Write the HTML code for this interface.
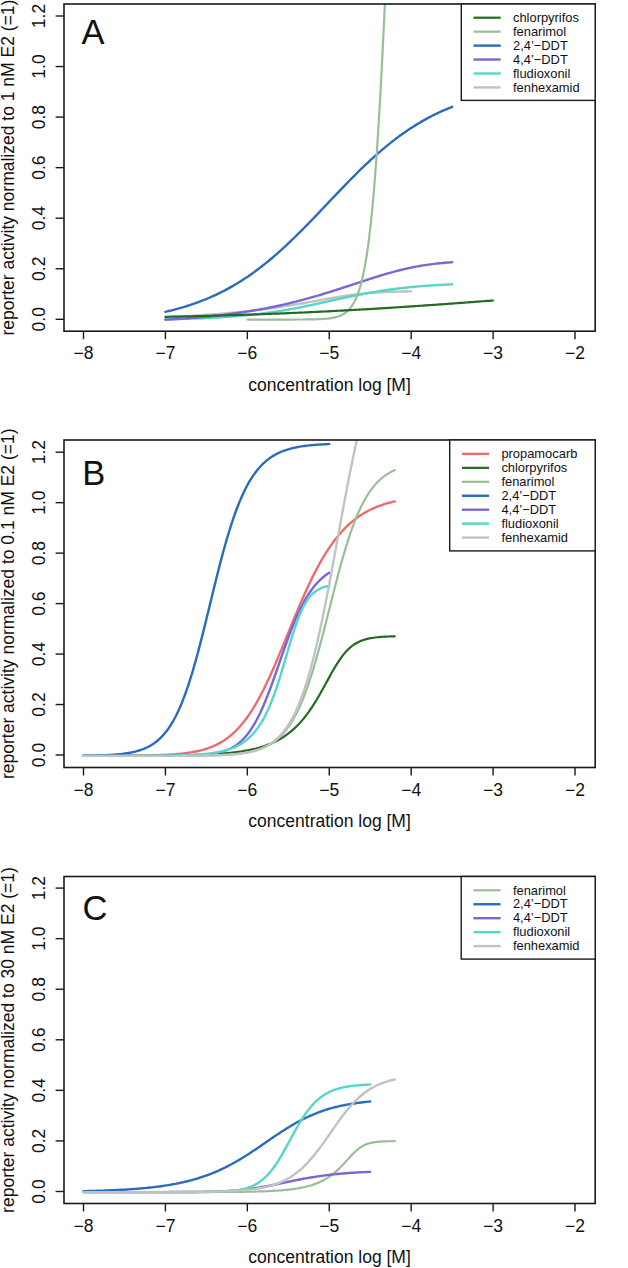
<!DOCTYPE html>
<html><head><meta charset="utf-8"><style>
html,body{margin:0;padding:0;background:#fff;}
svg{display:block;}
text{font-family:"Liberation Sans",sans-serif;fill:#111;}
</style></head><body>
<svg width="628" height="1268" viewBox="0 0 628 1268">
<rect width="628" height="1268" fill="#fff"/>
<clipPath id="clipA"><rect x="64.0" y="4.0" width="531.2" height="327.2"/></clipPath>
<g clip-path="url(#clipA)" fill="none" stroke-linejoin="round" stroke-linecap="round">
<path d="M165.42,317.17 L166.97,317.10 L168.51,317.03 L170.06,316.96 L171.60,316.88 L173.15,316.81 L174.69,316.73 L176.24,316.65 L177.79,316.57 L179.33,316.49 L180.88,316.41 L182.42,316.33 L183.97,316.25 L185.51,316.16 L187.06,316.07 L188.60,315.98 L190.15,315.89 L191.70,315.80 L193.24,315.71 L194.79,315.61 L196.33,315.52 L197.88,315.42 L199.42,315.32 L200.97,315.22 L202.52,315.12 L204.06,315.01 L205.61,314.90 L207.15,314.80 L208.70,314.69 L210.24,314.57 L211.79,314.46 L213.34,314.34 L214.88,314.23 L216.43,314.11 L217.97,313.98 L219.52,313.86 L221.06,313.73 L222.61,313.61 L224.16,313.48 L225.70,313.34 L227.25,313.21 L228.79,313.07 L230.34,312.93 L231.88,312.79 L233.43,312.65 L234.97,312.50 L236.52,312.35 L238.07,312.20 L239.61,312.05 L241.16,311.89 L242.70,311.73 L244.25,311.57 L245.79,311.41 L247.34,311.24 L248.89,311.07 L250.43,310.90 L251.98,310.73 L253.52,310.55 L255.07,310.37 L256.61,310.19 L258.16,310.00 L259.71,309.81 L261.25,309.62 L262.80,309.42 L264.34,309.22 L265.89,309.02 L267.43,308.82 L268.98,308.61 L270.52,308.40 L272.07,308.19 L273.62,307.97 L275.16,307.75 L276.71,307.53 L278.25,307.30 L279.80,307.07 L281.34,306.84 L282.89,306.60 L284.44,306.36 L285.98,306.12 L287.53,305.88 L289.07,305.63 L290.62,305.38 L292.16,305.12 L293.71,304.86 L295.26,304.60 L296.80,304.34 L298.35,304.07 L299.89,303.81 L301.44,303.54 L302.98,303.26 L304.53,302.99 L306.08,302.71 L307.62,302.43 L309.17,302.15 L310.71,301.87 L312.26,301.59 L313.80,301.30 L315.35,301.02 L316.89,300.73 L318.44,300.45 L319.99,300.16 L321.53,299.88 L323.08,299.59 L324.62,299.31 L326.17,299.03 L327.71,298.75 L329.26,298.47 L330.81,298.19 L332.35,297.92 L333.90,297.65 L335.44,297.39 L336.99,297.13 L338.53,296.87 L340.08,296.62 L341.63,296.37 L343.17,296.13 L344.72,295.90 L346.26,295.67 L347.81,295.44 L349.35,295.23 L350.90,295.02 L352.44,294.81 L353.99,294.62 L355.54,294.43 L357.08,294.24 L358.63,294.07 L360.17,293.90 L361.72,293.74 L363.26,293.59 L364.81,293.44 L366.36,293.30 L367.90,293.17 L369.45,293.04 L370.99,292.92 L372.54,292.81 L374.08,292.70 L375.63,292.60 L377.18,292.50 L378.72,292.41 L380.27,292.32 L381.81,292.24 L383.36,292.17 L384.90,292.10 L386.45,292.03 L388.00,291.97 L389.54,291.91 L391.09,291.86 L392.63,291.80 L394.18,291.76 L395.72,291.71 L397.27,291.67 L398.81,291.63 L400.36,291.59 L401.91,291.56 L403.45,291.53 L405.00,291.50 L406.54,291.47 L408.09,291.45 L409.63,291.42 L411.18,291.40" stroke="#c2c2c2" stroke-width="2.4"/>
<path d="M165.42,319.29 L167.22,319.25 L169.03,319.22 L170.83,319.18 L172.63,319.14 L174.44,319.10 L176.24,319.06 L178.04,319.02 L179.85,318.97 L181.65,318.93 L183.45,318.88 L185.26,318.83 L187.06,318.77 L188.86,318.72 L190.67,318.66 L192.47,318.60 L194.27,318.54 L196.08,318.48 L197.88,318.41 L199.68,318.34 L201.49,318.27 L203.29,318.19 L205.09,318.12 L206.90,318.04 L208.70,317.95 L210.50,317.87 L212.31,317.78 L214.11,317.68 L215.91,317.59 L217.71,317.48 L219.52,317.38 L221.32,317.27 L223.12,317.16 L224.93,317.04 L226.73,316.92 L228.53,316.80 L230.34,316.67 L232.14,316.54 L233.94,316.40 L235.75,316.25 L237.55,316.11 L239.35,315.95 L241.16,315.79 L242.96,315.63 L244.76,315.46 L246.57,315.29 L248.37,315.11 L250.17,314.92 L251.98,314.73 L253.78,314.53 L255.58,314.33 L257.39,314.12 L259.19,313.91 L260.99,313.68 L262.80,313.46 L264.60,313.22 L266.40,312.98 L268.21,312.73 L270.01,312.48 L271.81,312.22 L273.62,311.95 L275.42,311.68 L277.22,311.40 L279.03,311.12 L280.83,310.82 L282.63,310.53 L284.44,310.22 L286.24,309.91 L288.04,309.59 L289.85,309.27 L291.65,308.94 L293.45,308.61 L295.26,308.26 L297.06,307.92 L298.86,307.57 L300.67,307.21 L302.47,306.85 L304.27,306.49 L306.08,306.12 L307.88,305.74 L309.68,305.36 L311.48,304.98 L313.29,304.60 L315.09,304.21 L316.89,303.82 L318.70,303.43 L320.50,303.03 L322.30,302.64 L324.11,302.24 L325.91,301.84 L327.71,301.44 L329.52,301.04 L331.32,300.65 L333.12,300.25 L334.93,299.85 L336.73,299.45 L338.53,299.06 L340.34,298.67 L342.14,298.28 L343.94,297.89 L345.75,297.50 L347.55,297.12 L349.35,296.74 L351.16,296.37 L352.96,296.00 L354.76,295.63 L356.57,295.27 L358.37,294.91 L360.17,294.56 L361.98,294.21 L363.78,293.87 L365.58,293.53 L367.39,293.20 L369.19,292.88 L370.99,292.56 L372.80,292.25 L374.60,291.94 L376.40,291.64 L378.21,291.35 L380.01,291.06 L381.81,290.78 L383.62,290.50 L385.42,290.23 L387.22,289.97 L389.03,289.72 L390.83,289.47 L392.63,289.23 L394.44,288.99 L396.24,288.76 L398.04,288.54 L399.85,288.32 L401.65,288.11 L403.45,287.91 L405.25,287.71 L407.06,287.52 L408.86,287.33 L410.66,287.15 L412.47,286.97 L414.27,286.80 L416.07,286.64 L417.88,286.48 L419.68,286.32 L421.48,286.17 L423.29,286.03 L425.09,285.89 L426.89,285.75 L428.70,285.62 L430.50,285.50 L432.30,285.38 L434.11,285.26 L435.91,285.15 L437.71,285.04 L439.52,284.93 L441.32,284.83 L443.12,284.73 L444.93,284.64 L446.73,284.55 L448.53,284.46 L450.34,284.37 L452.14,284.29" stroke="#55d6c8" stroke-width="2.4"/>
<path d="M165.42,319.74 L167.22,319.64 L169.03,319.53 L170.83,319.42 L172.63,319.31 L174.44,319.20 L176.24,319.08 L178.04,318.96 L179.85,318.84 L181.65,318.71 L183.45,318.59 L185.26,318.45 L187.06,318.32 L188.86,318.18 L190.67,318.04 L192.47,317.90 L194.27,317.75 L196.08,317.60 L197.88,317.45 L199.68,317.29 L201.49,317.13 L203.29,316.96 L205.09,316.79 L206.90,316.62 L208.70,316.44 L210.50,316.26 L212.31,316.08 L214.11,315.89 L215.91,315.69 L217.71,315.49 L219.52,315.29 L221.32,315.08 L223.12,314.87 L224.93,314.66 L226.73,314.44 L228.53,314.21 L230.34,313.98 L232.14,313.74 L233.94,313.50 L235.75,313.26 L237.55,313.01 L239.35,312.75 L241.16,312.49 L242.96,312.22 L244.76,311.95 L246.57,311.67 L248.37,311.38 L250.17,311.09 L251.98,310.80 L253.78,310.50 L255.58,310.19 L257.39,309.88 L259.19,309.56 L260.99,309.23 L262.80,308.90 L264.60,308.56 L266.40,308.21 L268.21,307.86 L270.01,307.50 L271.81,307.14 L273.62,306.77 L275.42,306.39 L277.22,306.01 L279.03,305.62 L280.83,305.22 L282.63,304.81 L284.44,304.40 L286.24,303.99 L288.04,303.56 L289.85,303.13 L291.65,302.69 L293.45,302.25 L295.26,301.80 L297.06,301.34 L298.86,300.88 L300.67,300.40 L302.47,299.93 L304.27,299.44 L306.08,298.95 L307.88,298.46 L309.68,297.95 L311.48,297.44 L313.29,296.93 L315.09,296.41 L316.89,295.88 L318.70,295.35 L320.50,294.81 L322.30,294.27 L324.11,293.72 L325.91,293.17 L327.71,292.61 L329.52,292.05 L331.32,291.49 L333.12,290.92 L334.93,290.34 L336.73,289.76 L338.53,289.18 L340.34,288.60 L342.14,288.01 L343.94,287.43 L345.75,286.84 L347.55,286.24 L349.35,285.65 L351.16,285.06 L352.96,284.46 L354.76,283.87 L356.57,283.27 L358.37,282.68 L360.17,282.09 L361.98,281.50 L363.78,280.91 L365.58,280.32 L367.39,279.74 L369.19,279.16 L370.99,278.58 L372.80,278.01 L374.60,277.44 L376.40,276.88 L378.21,276.32 L380.01,275.77 L381.81,275.22 L383.62,274.69 L385.42,274.16 L387.22,273.63 L389.03,273.12 L390.83,272.61 L392.63,272.12 L394.44,271.63 L396.24,271.16 L398.04,270.69 L399.85,270.23 L401.65,269.79 L403.45,269.35 L405.25,268.93 L407.06,268.52 L408.86,268.12 L410.66,267.74 L412.47,267.36 L414.27,267.00 L416.07,266.65 L417.88,266.32 L419.68,266.00 L421.48,265.69 L423.29,265.39 L425.09,265.11 L426.89,264.83 L428.70,264.58 L430.50,264.33 L432.30,264.10 L434.11,263.88 L435.91,263.67 L437.71,263.47 L439.52,263.28 L441.32,263.11 L443.12,262.94 L444.93,262.79 L446.73,262.65 L448.53,262.52 L450.34,262.39 L452.14,262.28" stroke="#7767d8" stroke-width="2.4"/>
<path d="M165.42,311.83 L167.22,311.42 L169.03,310.99 L170.83,310.55 L172.63,310.09 L174.44,309.63 L176.24,309.15 L178.04,308.66 L179.85,308.15 L181.65,307.63 L183.45,307.10 L185.26,306.55 L187.06,305.99 L188.86,305.42 L190.67,304.83 L192.47,304.22 L194.27,303.60 L196.08,302.96 L197.88,302.30 L199.68,301.63 L201.49,300.94 L203.29,300.24 L205.09,299.51 L206.90,298.77 L208.70,298.01 L210.50,297.23 L212.31,296.44 L214.11,295.62 L215.91,294.79 L217.71,293.93 L219.52,293.06 L221.32,292.16 L223.12,291.24 L224.93,290.31 L226.73,289.35 L228.53,288.37 L230.34,287.37 L232.14,286.35 L233.94,285.31 L235.75,284.24 L237.55,283.16 L239.35,282.05 L241.16,280.92 L242.96,279.76 L244.76,278.58 L246.57,277.38 L248.37,276.16 L250.17,274.92 L251.98,273.65 L253.78,272.36 L255.58,271.04 L257.39,269.71 L259.19,268.35 L260.99,266.97 L262.80,265.56 L264.60,264.14 L266.40,262.69 L268.21,261.22 L270.01,259.73 L271.81,258.21 L273.62,256.68 L275.42,255.12 L277.22,253.54 L279.03,251.95 L280.83,250.33 L282.63,248.69 L284.44,247.04 L286.24,245.37 L288.04,243.68 L289.85,241.97 L291.65,240.24 L293.45,238.50 L295.26,236.74 L297.06,234.97 L298.86,233.19 L300.67,231.39 L302.47,229.57 L304.27,227.75 L306.08,225.91 L307.88,224.07 L309.68,222.21 L311.48,220.35 L313.29,218.48 L315.09,216.60 L316.89,214.71 L318.70,212.82 L320.50,210.93 L322.30,209.03 L324.11,207.13 L325.91,205.22 L327.71,203.32 L329.52,201.41 L331.32,199.51 L333.12,197.61 L334.93,195.71 L336.73,193.82 L338.53,191.93 L340.34,190.05 L342.14,188.17 L343.94,186.30 L345.75,184.44 L347.55,182.59 L349.35,180.75 L351.16,178.92 L352.96,177.10 L354.76,175.29 L356.57,173.49 L358.37,171.71 L360.17,169.95 L361.98,168.20 L363.78,166.46 L365.58,164.74 L367.39,163.04 L369.19,161.36 L370.99,159.69 L372.80,158.04 L374.60,156.41 L376.40,154.80 L378.21,153.21 L380.01,151.65 L381.81,150.10 L383.62,148.57 L385.42,147.06 L387.22,145.58 L389.03,144.12 L390.83,142.68 L392.63,141.26 L394.44,139.86 L396.24,138.49 L398.04,137.14 L399.85,135.81 L401.65,134.51 L403.45,133.22 L405.25,131.97 L407.06,130.73 L408.86,129.51 L410.66,128.32 L412.47,127.16 L414.27,126.01 L416.07,124.89 L417.88,123.79 L419.68,122.71 L421.48,121.65 L423.29,120.62 L425.09,119.60 L426.89,118.61 L428.70,117.64 L430.50,116.69 L432.30,115.76 L434.11,114.85 L435.91,113.97 L437.71,113.10 L439.52,112.25 L441.32,111.42 L443.12,110.62 L444.93,109.83 L446.73,109.05 L448.53,108.30 L450.34,107.57 L452.14,106.85" stroke="#2a6dbc" stroke-width="2.4"/>
<path d="M247.34,319.55 L248.63,319.55 L249.92,319.55 L251.20,319.55 L252.49,319.55 L253.78,319.55 L255.07,319.55 L256.36,319.55 L257.64,319.55 L258.93,319.55 L260.22,319.55 L261.51,319.55 L262.80,319.55 L264.08,319.55 L265.37,319.55 L266.66,319.55 L267.95,319.55 L269.24,319.55 L270.52,319.55 L271.81,319.55 L273.10,319.55 L274.39,319.55 L275.68,319.55 L276.97,319.55 L278.25,319.55 L279.54,319.55 L280.83,319.55 L282.12,319.55 L283.41,319.55 L284.69,319.54 L285.98,319.54 L287.27,319.54 L288.56,319.54 L289.85,319.54 L291.13,319.53 L292.42,319.53 L293.71,319.53 L295.00,319.52 L296.29,319.52 L297.57,319.52 L298.86,319.51 L300.15,319.50 L301.44,319.50 L302.73,319.49 L304.01,319.48 L305.30,319.47 L306.59,319.45 L307.88,319.44 L309.17,319.42 L310.45,319.40 L311.74,319.38 L313.03,319.35 L314.32,319.32 L315.61,319.28 L316.89,319.24 L318.18,319.20 L319.47,319.14 L320.76,319.08 L322.05,319.01 L323.33,318.93 L324.62,318.84 L325.91,318.73 L327.20,318.61 L328.49,318.46 L329.78,318.30 L331.06,318.11 L332.35,317.90 L333.64,317.65 L334.93,317.36 L336.22,317.04 L337.50,316.66 L338.79,316.23 L340.08,315.73 L341.37,315.16 L342.66,314.50 L343.94,313.75 L345.23,312.88 L346.52,311.89 L347.81,310.75 L349.10,309.44 L350.38,307.94 L351.67,306.22 L352.96,304.25 L354.25,302.00 L355.54,299.43 L356.82,296.49 L358.11,293.13 L359.40,289.30 L360.69,284.94 L361.98,279.98 L363.26,274.35 L364.55,267.96 L365.84,260.75 L367.13,252.60 L368.42,243.43 L369.70,233.15 L370.99,221.65 L372.28,208.84 L373.57,194.63 L374.86,178.94 L376.15,161.70 L377.43,142.87 L378.72,122.42 L380.01,100.36 L381.30,76.75 L382.59,51.66 L383.87,25.21 L385.16,-2.42 L386.45,-31.04 L387.74,-60.40 L389.03,-90.23 L390.31,-120.26 L391.60,-150.18 L392.89,-179.71 L394.18,-208.58 L395.47,-236.53 L396.75,-263.35 L398.04,-288.87 L399.33,-312.94 L400.62,-335.46 L401.91,-356.40 L403.19,-375.71 L404.48,-393.42 L405.77,-409.58 L407.06,-424.22 L408.35,-437.44 L409.63,-449.33 L410.92,-459.96 L412.21,-469.46 L413.50,-477.90 L414.79,-485.38 L416.07,-492.01 L417.36,-497.86 L418.65,-503.01 L419.94,-507.54 L421.23,-511.53 L422.51,-515.02 L423.80,-518.08 L425.09,-520.76 L426.38,-523.10 L427.67,-525.15 L428.96,-526.94 L430.24,-528.50 L431.53,-529.87 L432.82,-531.05 L434.11,-532.09 L435.40,-532.99 L436.68,-533.78 L437.97,-534.46 L439.26,-535.06 L440.55,-535.58 L441.84,-536.03 L443.12,-536.42 L444.41,-536.76 L445.70,-537.06 L446.99,-537.32 L448.28,-537.54 L449.56,-537.74 L450.85,-537.91 L452.14,-538.06" stroke="#98bf98" stroke-width="2.2"/>
<path d="M165.42,316.83 L167.48,316.79 L169.54,316.75 L171.60,316.70 L173.66,316.66 L175.72,316.62 L177.79,316.57 L179.85,316.53 L181.91,316.48 L183.97,316.43 L186.03,316.39 L188.09,316.34 L190.15,316.29 L192.21,316.24 L194.27,316.19 L196.33,316.14 L198.39,316.09 L200.45,316.04 L202.52,315.99 L204.58,315.93 L206.64,315.88 L208.70,315.83 L210.76,315.77 L212.82,315.71 L214.88,315.66 L216.94,315.60 L219.00,315.54 L221.06,315.48 L223.12,315.43 L225.19,315.37 L227.25,315.30 L229.31,315.24 L231.37,315.18 L233.43,315.12 L235.49,315.05 L237.55,314.99 L239.61,314.92 L241.67,314.86 L243.73,314.79 L245.79,314.72 L247.86,314.65 L249.92,314.58 L251.98,314.51 L254.04,314.44 L256.10,314.37 L258.16,314.30 L260.22,314.23 L262.28,314.15 L264.34,314.08 L266.40,314.00 L268.46,313.92 L270.52,313.85 L272.59,313.77 L274.65,313.69 L276.71,313.61 L278.77,313.53 L280.83,313.44 L282.89,313.36 L284.95,313.28 L287.01,313.19 L289.07,313.11 L291.13,313.02 L293.19,312.93 L295.26,312.84 L297.32,312.75 L299.38,312.66 L301.44,312.57 L303.50,312.48 L305.56,312.39 L307.62,312.29 L309.68,312.20 L311.74,312.10 L313.80,312.01 L315.86,311.91 L317.93,311.81 L319.99,311.71 L322.05,311.61 L324.11,311.51 L326.17,311.41 L328.23,311.30 L330.29,311.20 L332.35,311.09 L334.41,310.99 L336.47,310.88 L338.53,310.77 L340.59,310.66 L342.66,310.55 L344.72,310.44 L346.78,310.33 L348.84,310.22 L350.90,310.11 L352.96,309.99 L355.02,309.88 L357.08,309.76 L359.14,309.64 L361.20,309.52 L363.26,309.41 L365.33,309.29 L367.39,309.16 L369.45,309.04 L371.51,308.92 L373.57,308.80 L375.63,308.67 L377.69,308.55 L379.75,308.42 L381.81,308.29 L383.87,308.17 L385.93,308.04 L388.00,307.91 L390.06,307.78 L392.12,307.65 L394.18,307.52 L396.24,307.38 L398.30,307.25 L400.36,307.12 L402.42,306.98 L404.48,306.84 L406.54,306.71 L408.60,306.57 L410.66,306.43 L412.73,306.29 L414.79,306.16 L416.85,306.02 L418.91,305.87 L420.97,305.73 L423.03,305.59 L425.09,305.45 L427.15,305.31 L429.21,305.16 L431.27,305.02 L433.33,304.87 L435.40,304.73 L437.46,304.58 L439.52,304.43 L441.58,304.29 L443.64,304.14 L445.70,303.99 L447.76,303.84 L449.82,303.69 L451.88,303.54 L453.94,303.39 L456.00,303.24 L458.07,303.09 L460.13,302.94 L462.19,302.79 L464.25,302.64 L466.31,302.48 L468.37,302.33 L470.43,302.18 L472.49,302.03 L474.55,301.87 L476.61,301.72 L478.67,301.57 L480.73,301.41 L482.80,301.26 L484.86,301.10 L486.92,300.95 L488.98,300.79 L491.04,300.64 L493.10,300.49" stroke="#236b23" stroke-width="2.2"/>
</g>
<rect x="64.0" y="4.0" width="531.2" height="327.2" fill="none" stroke="#1a1a1a" stroke-width="1.6"/>
<line x1="83.50" y1="331.2" x2="83.50" y2="339.2" stroke="#1a1a1a" stroke-width="1.4"/>
<text x="83.50" y="359.3" text-anchor="middle" font-size="17.5">−8</text>
<line x1="165.42" y1="331.2" x2="165.42" y2="339.2" stroke="#1a1a1a" stroke-width="1.4"/>
<text x="165.42" y="359.3" text-anchor="middle" font-size="17.5">−7</text>
<line x1="247.34" y1="331.2" x2="247.34" y2="339.2" stroke="#1a1a1a" stroke-width="1.4"/>
<text x="247.34" y="359.3" text-anchor="middle" font-size="17.5">−6</text>
<line x1="329.26" y1="331.2" x2="329.26" y2="339.2" stroke="#1a1a1a" stroke-width="1.4"/>
<text x="329.26" y="359.3" text-anchor="middle" font-size="17.5">−5</text>
<line x1="411.18" y1="331.2" x2="411.18" y2="339.2" stroke="#1a1a1a" stroke-width="1.4"/>
<text x="411.18" y="359.3" text-anchor="middle" font-size="17.5">−4</text>
<line x1="493.10" y1="331.2" x2="493.10" y2="339.2" stroke="#1a1a1a" stroke-width="1.4"/>
<text x="493.10" y="359.3" text-anchor="middle" font-size="17.5">−3</text>
<line x1="575.02" y1="331.2" x2="575.02" y2="339.2" stroke="#1a1a1a" stroke-width="1.4"/>
<text x="575.02" y="359.3" text-anchor="middle" font-size="17.5">−2</text>
<line x1="55.6" y1="319.30" x2="64.0" y2="319.30" stroke="#1a1a1a" stroke-width="1.4"/>
<text transform="translate(44.8,319.30) rotate(-90)" x="0" y="0" text-anchor="middle" font-size="17.5">0.0</text>
<line x1="55.6" y1="268.75" x2="64.0" y2="268.75" stroke="#1a1a1a" stroke-width="1.4"/>
<text transform="translate(44.8,268.75) rotate(-90)" x="0" y="0" text-anchor="middle" font-size="17.5">0.2</text>
<line x1="55.6" y1="218.20" x2="64.0" y2="218.20" stroke="#1a1a1a" stroke-width="1.4"/>
<text transform="translate(44.8,218.20) rotate(-90)" x="0" y="0" text-anchor="middle" font-size="17.5">0.4</text>
<line x1="55.6" y1="167.65" x2="64.0" y2="167.65" stroke="#1a1a1a" stroke-width="1.4"/>
<text transform="translate(44.8,167.65) rotate(-90)" x="0" y="0" text-anchor="middle" font-size="17.5">0.6</text>
<line x1="55.6" y1="117.10" x2="64.0" y2="117.10" stroke="#1a1a1a" stroke-width="1.4"/>
<text transform="translate(44.8,117.10) rotate(-90)" x="0" y="0" text-anchor="middle" font-size="17.5">0.8</text>
<line x1="55.6" y1="66.55" x2="64.0" y2="66.55" stroke="#1a1a1a" stroke-width="1.4"/>
<text transform="translate(44.8,66.55) rotate(-90)" x="0" y="0" text-anchor="middle" font-size="17.5">1.0</text>
<line x1="55.6" y1="16.00" x2="64.0" y2="16.00" stroke="#1a1a1a" stroke-width="1.4"/>
<text transform="translate(44.8,16.00) rotate(-90)" x="0" y="0" text-anchor="middle" font-size="17.5">1.2</text>
<text x="329.60" y="391.0" text-anchor="middle" font-size="17.5">concentration log [M]</text>
<text transform="translate(13.9,167.60) rotate(-90)" text-anchor="middle" font-size="17.5">reporter activity normalized to 1 nM E2 (=1)</text>
<text x="81.6" y="44.1" font-size="34.5">A</text>
<rect x="461.3" y="4.0" width="133.90000000000003" height="96.4" fill="#fff" stroke="#1a1a1a" stroke-width="1.4"/>
<line x1="473.50" y1="17.70" x2="500.70" y2="17.70" stroke="#236b23" stroke-width="2.2"/>
<text x="513.00" y="21.90" font-size="12.9">chlorpyrifos</text>
<line x1="473.50" y1="31.65" x2="500.70" y2="31.65" stroke="#98bf98" stroke-width="2.2"/>
<text x="513.00" y="35.85" font-size="12.9">fenarimol</text>
<line x1="473.50" y1="45.60" x2="500.70" y2="45.60" stroke="#2a6dbc" stroke-width="2.4"/>
<text x="513.00" y="49.80" font-size="12.9">2,4’−DDT</text>
<line x1="473.50" y1="59.55" x2="500.70" y2="59.55" stroke="#7767d8" stroke-width="2.4"/>
<text x="513.00" y="63.75" font-size="12.9">4,4’−DDT</text>
<line x1="473.50" y1="73.50" x2="500.70" y2="73.50" stroke="#55d6c8" stroke-width="2.4"/>
<text x="513.00" y="77.70" font-size="12.9">fludioxonil</text>
<line x1="473.50" y1="87.45" x2="500.70" y2="87.45" stroke="#c2c2c2" stroke-width="2.4"/>
<text x="513.00" y="91.65" font-size="12.9">fenhexamid</text>
<clipPath id="clipB"><rect x="64.0" y="440.0" width="531.2" height="327.5"/></clipPath>
<g clip-path="url(#clipB)" fill="none" stroke-linejoin="round" stroke-linecap="round">
<path d="M83.50,755.88 L85.46,755.88 L87.42,755.88 L89.37,755.88 L91.33,755.87 L93.29,755.87 L95.25,755.87 L97.20,755.86 L99.16,755.86 L101.12,755.86 L103.08,755.85 L105.04,755.85 L106.99,755.84 L108.95,755.84 L110.91,755.83 L112.87,755.82 L114.83,755.81 L116.78,755.80 L118.74,755.80 L120.70,755.78 L122.66,755.77 L124.61,755.76 L126.57,755.75 L128.53,755.73 L130.49,755.71 L132.45,755.69 L134.40,755.67 L136.36,755.65 L138.32,755.63 L140.28,755.60 L142.24,755.57 L144.19,755.53 L146.15,755.50 L148.11,755.46 L150.07,755.41 L152.02,755.36 L153.98,755.31 L155.94,755.25 L157.90,755.18 L159.86,755.11 L161.81,755.03 L163.77,754.95 L165.73,754.85 L167.69,754.75 L169.64,754.64 L171.60,754.51 L173.56,754.37 L175.52,754.22 L177.48,754.06 L179.43,753.88 L181.39,753.68 L183.35,753.46 L185.31,753.23 L187.27,752.97 L189.22,752.68 L191.18,752.37 L193.14,752.03 L195.10,751.66 L197.05,751.26 L199.01,750.82 L200.97,750.34 L202.93,749.82 L204.89,749.25 L206.84,748.64 L208.80,747.96 L210.76,747.24 L212.72,746.45 L214.68,745.59 L216.63,744.67 L218.59,743.67 L220.55,742.59 L222.51,741.42 L224.46,740.17 L226.42,738.82 L228.38,737.37 L230.34,735.81 L232.30,734.15 L234.25,732.36 L236.21,730.46 L238.17,728.44 L240.13,726.28 L242.08,723.99 L244.04,721.56 L246.00,719.00 L247.96,716.29 L249.92,713.43 L251.87,710.43 L253.83,707.29 L255.79,704.00 L257.75,700.57 L259.71,696.99 L261.66,693.28 L263.62,689.43 L265.58,685.45 L267.54,681.35 L269.49,677.14 L271.45,672.82 L273.41,668.40 L275.37,663.89 L277.33,659.31 L279.28,654.66 L281.24,649.96 L283.20,645.22 L285.16,640.44 L287.11,635.65 L289.07,630.85 L291.03,626.07 L292.99,621.30 L294.95,616.56 L296.90,611.87 L298.86,607.23 L300.82,602.66 L302.78,598.16 L304.74,593.74 L306.69,589.42 L308.65,585.19 L310.61,581.07 L312.57,577.05 L314.52,573.15 L316.48,569.37 L318.44,565.71 L320.40,562.18 L322.36,558.77 L324.31,555.48 L326.27,552.32 L328.23,549.29 L330.19,546.38 L332.15,543.59 L334.10,540.93 L336.06,538.38 L338.02,535.95 L339.98,533.64 L341.93,531.43 L343.89,529.34 L345.85,527.34 L347.81,525.45 L349.77,523.66 L351.72,521.96 L353.68,520.34 L355.64,518.82 L357.60,517.38 L359.55,516.01 L361.51,514.72 L363.47,513.51 L365.43,512.36 L367.39,511.28 L369.34,510.26 L371.30,509.29 L373.26,508.39 L375.22,507.53 L377.18,506.73 L379.13,505.97 L381.09,505.26 L383.05,504.59 L385.01,503.97 L386.96,503.38 L388.92,502.82 L390.88,502.30 L392.84,501.81 L394.80,501.35" stroke="#ec6c6c" stroke-width="2.4"/>
<path d="M83.50,755.88 L85.46,755.88 L87.42,755.88 L89.37,755.88 L91.33,755.87 L93.29,755.87 L95.25,755.87 L97.20,755.87 L99.16,755.87 L101.12,755.86 L103.08,755.86 L105.04,755.86 L106.99,755.85 L108.95,755.85 L110.91,755.85 L112.87,755.84 L114.83,755.84 L116.78,755.84 L118.74,755.83 L120.70,755.83 L122.66,755.82 L124.61,755.82 L126.57,755.81 L128.53,755.80 L130.49,755.80 L132.45,755.79 L134.40,755.78 L136.36,755.78 L138.32,755.77 L140.28,755.76 L142.24,755.75 L144.19,755.74 L146.15,755.73 L148.11,755.71 L150.07,755.70 L152.02,755.69 L153.98,755.67 L155.94,755.66 L157.90,755.64 L159.86,755.62 L161.81,755.60 L163.77,755.58 L165.73,755.56 L167.69,755.54 L169.64,755.51 L171.60,755.48 L173.56,755.46 L175.52,755.43 L177.48,755.39 L179.43,755.36 L181.39,755.32 L183.35,755.28 L185.31,755.24 L187.27,755.19 L189.22,755.14 L191.18,755.09 L193.14,755.03 L195.10,754.97 L197.05,754.91 L199.01,754.84 L200.97,754.77 L202.93,754.69 L204.89,754.60 L206.84,754.51 L208.80,754.42 L210.76,754.32 L212.72,754.21 L214.68,754.09 L216.63,753.96 L218.59,753.83 L220.55,753.69 L222.51,753.53 L224.46,753.37 L226.42,753.19 L228.38,753.01 L230.34,752.80 L232.30,752.59 L234.25,752.36 L236.21,752.12 L238.17,751.85 L240.13,751.57 L242.08,751.27 L244.04,750.95 L246.00,750.61 L247.96,750.25 L249.92,749.86 L251.87,749.44 L253.83,748.99 L255.79,748.51 L257.75,748.00 L259.71,747.45 L261.66,746.87 L263.62,746.24 L265.58,745.58 L267.54,744.86 L269.49,744.10 L271.45,743.29 L273.41,742.41 L275.37,741.48 L277.33,740.49 L279.28,739.43 L281.24,738.29 L283.20,737.08 L285.16,735.79 L287.11,734.41 L289.07,732.94 L291.03,731.37 L292.99,729.70 L294.95,727.92 L296.90,726.03 L298.86,724.02 L300.82,721.88 L302.78,719.62 L304.74,717.23 L306.69,714.69 L308.65,712.03 L310.61,709.22 L312.57,706.28 L314.52,703.21 L316.48,700.01 L318.44,696.70 L320.40,693.30 L322.36,689.81 L324.31,686.26 L326.27,682.68 L328.23,679.10 L330.19,675.54 L332.15,672.05 L334.10,668.65 L336.06,665.38 L338.02,662.27 L339.98,659.34 L341.93,656.61 L343.89,654.10 L345.85,651.80 L347.81,649.73 L349.77,647.88 L351.72,646.23 L353.68,644.78 L355.64,643.52 L357.60,642.42 L359.55,641.46 L361.51,640.64 L363.47,639.94 L365.43,639.34 L367.39,638.83 L369.34,638.40 L371.30,638.04 L373.26,637.73 L375.22,637.47 L377.18,637.25 L379.13,637.06 L381.09,636.91 L383.05,636.77 L385.01,636.67 L386.96,636.57 L388.92,636.50 L390.88,636.43 L392.84,636.38 L394.80,636.33" stroke="#236b23" stroke-width="2.2"/>
<path d="M83.50,755.90 L85.46,755.90 L87.42,755.90 L89.37,755.90 L91.33,755.90 L93.29,755.90 L95.25,755.90 L97.20,755.90 L99.16,755.90 L101.12,755.90 L103.08,755.90 L105.04,755.90 L106.99,755.90 L108.95,755.90 L110.91,755.90 L112.87,755.90 L114.83,755.90 L116.78,755.90 L118.74,755.90 L120.70,755.90 L122.66,755.90 L124.61,755.90 L126.57,755.89 L128.53,755.89 L130.49,755.89 L132.45,755.89 L134.40,755.89 L136.36,755.89 L138.32,755.89 L140.28,755.89 L142.24,755.89 L144.19,755.89 L146.15,755.89 L148.11,755.88 L150.07,755.88 L152.02,755.88 L153.98,755.88 L155.94,755.88 L157.90,755.87 L159.86,755.87 L161.81,755.87 L163.77,755.86 L165.73,755.86 L167.69,755.85 L169.64,755.85 L171.60,755.84 L173.56,755.84 L175.52,755.83 L177.48,755.82 L179.43,755.81 L181.39,755.80 L183.35,755.79 L185.31,755.78 L187.27,755.76 L189.22,755.75 L191.18,755.73 L193.14,755.71 L195.10,755.69 L197.05,755.67 L199.01,755.64 L200.97,755.62 L202.93,755.58 L204.89,755.55 L206.84,755.51 L208.80,755.47 L210.76,755.42 L212.72,755.36 L214.68,755.30 L216.63,755.24 L218.59,755.16 L220.55,755.08 L222.51,754.99 L224.46,754.89 L226.42,754.78 L228.38,754.65 L230.34,754.52 L232.30,754.36 L234.25,754.19 L236.21,754.00 L238.17,753.79 L240.13,753.56 L242.08,753.30 L244.04,753.01 L246.00,752.69 L247.96,752.34 L249.92,751.95 L251.87,751.51 L253.83,751.03 L255.79,750.49 L257.75,749.90 L259.71,749.25 L261.66,748.53 L263.62,747.73 L265.58,746.84 L267.54,745.86 L269.49,744.79 L271.45,743.60 L273.41,742.29 L275.37,740.85 L277.33,739.26 L279.28,737.52 L281.24,735.61 L283.20,733.51 L285.16,731.22 L287.11,728.72 L289.07,726.00 L291.03,723.03 L292.99,719.82 L294.95,716.33 L296.90,712.56 L298.86,708.51 L300.82,704.15 L302.78,699.48 L304.74,694.49 L306.69,689.19 L308.65,683.58 L310.61,677.65 L312.57,671.43 L314.52,664.91 L316.48,658.13 L318.44,651.11 L320.40,643.87 L322.36,636.44 L324.31,628.87 L326.27,621.18 L328.23,613.43 L330.19,605.65 L332.15,597.89 L334.10,590.19 L336.06,582.60 L338.02,575.14 L339.98,567.87 L341.93,560.80 L343.89,553.98 L345.85,547.42 L347.81,541.14 L349.77,535.16 L351.72,529.49 L353.68,524.14 L355.64,519.10 L357.60,514.38 L359.55,509.96 L361.51,505.85 L363.47,502.04 L365.43,498.50 L367.39,495.24 L369.34,492.23 L371.30,489.46 L373.26,486.92 L375.22,484.60 L377.18,482.47 L379.13,480.53 L381.09,478.76 L383.05,477.15 L385.01,475.68 L386.96,474.35 L388.92,473.14 L390.88,472.04 L392.84,471.05 L394.80,470.15" stroke="#98bf98" stroke-width="2.2"/>
<path d="M83.50,755.70 L85.05,755.68 L86.59,755.66 L88.14,755.63 L89.68,755.61 L91.23,755.58 L92.77,755.55 L94.32,755.51 L95.87,755.48 L97.41,755.44 L98.96,755.39 L100.50,755.34 L102.05,755.29 L103.59,755.23 L105.14,755.17 L106.68,755.09 L108.23,755.02 L109.78,754.93 L111.32,754.84 L112.87,754.74 L114.41,754.63 L115.96,754.51 L117.50,754.37 L119.05,754.23 L120.60,754.07 L122.14,753.89 L123.69,753.70 L125.23,753.49 L126.78,753.27 L128.32,753.02 L129.87,752.74 L131.42,752.45 L132.96,752.12 L134.51,751.77 L136.05,751.38 L137.60,750.95 L139.14,750.49 L140.69,749.99 L142.24,749.44 L143.78,748.84 L145.33,748.19 L146.87,747.48 L148.42,746.71 L149.96,745.87 L151.51,744.96 L153.05,743.98 L154.60,742.90 L156.15,741.74 L157.69,740.48 L159.24,739.12 L160.78,737.65 L162.33,736.06 L163.87,734.35 L165.42,732.51 L166.97,730.52 L168.51,728.39 L170.06,726.10 L171.60,723.66 L173.15,721.04 L174.69,718.24 L176.24,715.26 L177.79,712.09 L179.33,708.73 L180.88,705.16 L182.42,701.40 L183.97,697.43 L185.51,693.25 L187.06,688.86 L188.60,684.27 L190.15,679.48 L191.70,674.49 L193.24,669.32 L194.79,663.95 L196.33,658.42 L197.88,652.73 L199.42,646.89 L200.97,640.92 L202.52,634.84 L204.06,628.66 L205.61,622.40 L207.15,616.08 L208.70,609.73 L210.24,603.36 L211.79,596.99 L213.34,590.65 L214.88,584.35 L216.43,578.12 L217.97,571.97 L219.52,565.92 L221.06,559.98 L222.61,554.18 L224.16,548.52 L225.70,543.02 L227.25,537.69 L228.79,532.52 L230.34,527.54 L231.88,522.75 L233.43,518.15 L234.97,513.74 L236.52,509.52 L238.07,505.49 L239.61,501.65 L241.16,498.01 L242.70,494.55 L244.25,491.27 L245.79,488.16 L247.34,485.23 L248.89,482.46 L250.43,479.86 L251.98,477.40 L253.52,475.10 L255.07,472.93 L256.61,470.90 L258.16,469.00 L259.71,467.21 L261.25,465.54 L262.80,463.98 L264.34,462.53 L265.89,461.17 L267.43,459.90 L268.98,458.71 L270.52,457.61 L272.07,456.58 L273.62,455.62 L275.16,454.73 L276.71,453.91 L278.25,453.14 L279.80,452.42 L281.34,451.75 L282.89,451.14 L284.44,450.56 L285.98,450.03 L287.53,449.53 L289.07,449.07 L290.62,448.65 L292.16,448.25 L293.71,447.89 L295.26,447.55 L296.80,447.23 L298.35,446.94 L299.89,446.67 L301.44,446.42 L302.98,446.18 L304.53,445.97 L306.08,445.77 L307.62,445.58 L309.17,445.41 L310.71,445.25 L312.26,445.11 L313.80,444.97 L315.35,444.84 L316.89,444.73 L318.44,444.62 L319.99,444.52 L321.53,444.43 L323.08,444.34 L324.62,444.26 L326.17,444.19 L327.71,444.12 L329.26,444.06" stroke="#2a6dbc" stroke-width="2.4"/>
<path d="M83.50,755.90 L85.05,755.90 L86.59,755.90 L88.14,755.90 L89.68,755.90 L91.23,755.90 L92.77,755.90 L94.32,755.90 L95.87,755.90 L97.41,755.90 L98.96,755.90 L100.50,755.90 L102.05,755.90 L103.59,755.90 L105.14,755.90 L106.68,755.90 L108.23,755.90 L109.78,755.90 L111.32,755.90 L112.87,755.90 L114.41,755.90 L115.96,755.90 L117.50,755.90 L119.05,755.90 L120.60,755.90 L122.14,755.90 L123.69,755.90 L125.23,755.90 L126.78,755.90 L128.32,755.89 L129.87,755.89 L131.42,755.89 L132.96,755.89 L134.51,755.89 L136.05,755.89 L137.60,755.89 L139.14,755.89 L140.69,755.89 L142.24,755.89 L143.78,755.88 L145.33,755.88 L146.87,755.88 L148.42,755.88 L149.96,755.88 L151.51,755.87 L153.05,755.87 L154.60,755.87 L156.15,755.86 L157.69,755.86 L159.24,755.85 L160.78,755.85 L162.33,755.84 L163.87,755.83 L165.42,755.82 L166.97,755.82 L168.51,755.81 L170.06,755.79 L171.60,755.78 L173.15,755.77 L174.69,755.75 L176.24,755.74 L177.79,755.72 L179.33,755.69 L180.88,755.67 L182.42,755.64 L183.97,755.61 L185.51,755.58 L187.06,755.54 L188.60,755.50 L190.15,755.45 L191.70,755.40 L193.24,755.34 L194.79,755.28 L196.33,755.20 L197.88,755.12 L199.42,755.03 L200.97,754.93 L202.52,754.82 L204.06,754.70 L205.61,754.56 L207.15,754.40 L208.70,754.23 L210.24,754.04 L211.79,753.83 L213.34,753.59 L214.88,753.33 L216.43,753.03 L217.97,752.71 L219.52,752.35 L221.06,751.96 L222.61,751.52 L224.16,751.03 L225.70,750.49 L227.25,749.90 L228.79,749.25 L230.34,748.53 L231.88,747.74 L233.43,746.87 L234.97,745.92 L236.52,744.87 L238.07,743.73 L239.61,742.49 L241.16,741.13 L242.70,739.66 L244.25,738.06 L245.79,736.33 L247.34,734.45 L248.89,732.44 L250.43,730.27 L251.98,727.95 L253.52,725.47 L255.07,722.82 L256.61,720.02 L258.16,717.04 L259.71,713.91 L261.25,710.61 L262.80,707.15 L264.34,703.55 L265.89,699.80 L267.43,695.91 L268.98,691.91 L270.52,687.79 L272.07,683.58 L273.62,679.28 L275.16,674.93 L276.71,670.52 L278.25,666.08 L279.80,661.64 L281.34,657.20 L282.89,652.78 L284.44,648.41 L285.98,644.09 L287.53,639.84 L289.07,635.69 L290.62,631.63 L292.16,627.68 L293.71,623.85 L295.26,620.15 L296.80,616.58 L298.35,613.16 L299.89,609.88 L301.44,606.74 L302.98,603.76 L304.53,600.92 L306.08,598.22 L307.62,595.67 L309.17,593.27 L310.71,591.00 L312.26,588.86 L313.80,586.85 L315.35,584.97 L316.89,583.20 L318.44,581.55 L319.99,580.01 L321.53,578.57 L323.08,577.23 L324.62,575.98 L326.17,574.82 L327.71,573.74 L329.26,572.74" stroke="#7767d8" stroke-width="2.4"/>
<path d="M83.50,755.90 L85.05,755.90 L86.59,755.90 L88.14,755.89 L89.68,755.89 L91.23,755.89 L92.77,755.89 L94.32,755.89 L95.87,755.89 L97.41,755.89 L98.96,755.89 L100.50,755.89 L102.05,755.89 L103.59,755.89 L105.14,755.89 L106.68,755.89 L108.23,755.89 L109.78,755.88 L111.32,755.88 L112.87,755.88 L114.41,755.88 L115.96,755.88 L117.50,755.88 L119.05,755.88 L120.60,755.87 L122.14,755.87 L123.69,755.87 L125.23,755.87 L126.78,755.86 L128.32,755.86 L129.87,755.86 L131.42,755.85 L132.96,755.85 L134.51,755.85 L136.05,755.84 L137.60,755.84 L139.14,755.83 L140.69,755.83 L142.24,755.82 L143.78,755.81 L145.33,755.81 L146.87,755.80 L148.42,755.79 L149.96,755.78 L151.51,755.77 L153.05,755.76 L154.60,755.75 L156.15,755.74 L157.69,755.73 L159.24,755.71 L160.78,755.70 L162.33,755.68 L163.87,755.66 L165.42,755.64 L166.97,755.62 L168.51,755.60 L170.06,755.57 L171.60,755.55 L173.15,755.52 L174.69,755.49 L176.24,755.45 L177.79,755.42 L179.33,755.38 L180.88,755.34 L182.42,755.29 L183.97,755.24 L185.51,755.19 L187.06,755.13 L188.60,755.06 L190.15,755.00 L191.70,754.92 L193.24,754.84 L194.79,754.75 L196.33,754.66 L197.88,754.56 L199.42,754.45 L200.97,754.33 L202.52,754.20 L204.06,754.06 L205.61,753.91 L207.15,753.75 L208.70,753.57 L210.24,753.38 L211.79,753.18 L213.34,752.95 L214.88,752.71 L216.43,752.45 L217.97,752.17 L219.52,751.87 L221.06,751.54 L222.61,751.18 L224.16,750.79 L225.70,750.37 L227.25,749.92 L228.79,749.43 L230.34,748.90 L231.88,748.33 L233.43,747.71 L234.97,747.05 L236.52,746.32 L238.07,745.54 L239.61,744.70 L241.16,743.78 L242.70,742.80 L244.25,741.73 L245.79,740.58 L247.34,739.33 L248.89,737.99 L250.43,736.53 L251.98,734.97 L253.52,733.28 L255.07,731.46 L256.61,729.50 L258.16,727.39 L259.71,725.12 L261.25,722.68 L262.80,720.06 L264.34,717.25 L265.89,714.25 L267.43,711.05 L268.98,707.63 L270.52,703.99 L272.07,700.14 L273.62,696.07 L275.16,691.79 L276.71,687.30 L278.25,682.61 L279.80,677.74 L281.34,672.72 L282.89,667.57 L284.44,662.33 L285.98,657.04 L287.53,651.74 L289.07,646.47 L290.62,641.29 L292.16,636.24 L293.71,631.36 L295.26,626.70 L296.80,622.29 L298.35,618.15 L299.89,614.31 L301.44,610.78 L302.98,607.55 L304.53,604.62 L306.08,602.00 L307.62,599.65 L309.17,597.57 L310.71,595.73 L312.26,594.11 L313.80,592.70 L315.35,591.47 L316.89,590.40 L318.44,589.48 L319.99,588.68 L321.53,587.99 L323.08,587.40 L324.62,586.90 L326.17,586.46 L327.71,586.09 L329.26,585.77" stroke="#55d6c8" stroke-width="2.4"/>
<path d="M83.50,755.90 L85.30,755.90 L87.11,755.90 L88.91,755.90 L90.71,755.90 L92.52,755.90 L94.32,755.90 L96.12,755.90 L97.93,755.90 L99.73,755.90 L101.53,755.90 L103.34,755.90 L105.14,755.90 L106.94,755.90 L108.75,755.90 L110.55,755.90 L112.35,755.90 L114.16,755.90 L115.96,755.90 L117.76,755.90 L119.57,755.90 L121.37,755.90 L123.17,755.90 L124.98,755.90 L126.78,755.90 L128.58,755.90 L130.39,755.90 L132.19,755.90 L133.99,755.89 L135.79,755.89 L137.60,755.89 L139.40,755.89 L141.20,755.89 L143.01,755.89 L144.81,755.89 L146.61,755.89 L148.42,755.89 L150.22,755.89 L152.02,755.88 L153.83,755.88 L155.63,755.88 L157.43,755.88 L159.24,755.88 L161.04,755.87 L162.84,755.87 L164.65,755.87 L166.45,755.87 L168.25,755.86 L170.06,755.86 L171.86,755.85 L173.66,755.85 L175.47,755.84 L177.27,755.84 L179.07,755.83 L180.88,755.82 L182.68,755.81 L184.48,755.80 L186.29,755.79 L188.09,755.78 L189.89,755.77 L191.70,755.75 L193.50,755.74 L195.30,755.72 L197.11,755.70 L198.91,755.68 L200.71,755.66 L202.52,755.63 L204.32,755.60 L206.12,755.57 L207.93,755.53 L209.73,755.49 L211.53,755.45 L213.34,755.40 L215.14,755.35 L216.94,755.29 L218.75,755.22 L220.55,755.15 L222.35,755.07 L224.16,754.98 L225.96,754.88 L227.76,754.77 L229.56,754.65 L231.37,754.52 L233.17,754.37 L234.97,754.21 L236.78,754.02 L238.58,753.82 L240.38,753.60 L242.19,753.36 L243.99,753.09 L245.79,752.79 L247.60,752.46 L249.40,752.09 L251.20,751.69 L253.01,751.25 L254.81,750.76 L256.61,750.22 L258.42,749.62 L260.22,748.96 L262.02,748.24 L263.83,747.45 L265.63,746.57 L267.43,745.61 L269.24,744.56 L271.04,743.40 L272.84,742.13 L274.65,740.74 L276.45,739.21 L278.25,737.54 L280.06,735.72 L281.86,733.73 L283.66,731.57 L285.47,729.21 L287.27,726.64 L289.07,723.86 L290.88,720.84 L292.68,717.57 L294.48,714.04 L296.29,710.23 L298.09,706.14 L299.89,701.74 L301.70,697.03 L303.50,692.00 L305.30,686.63 L307.11,680.92 L308.91,674.86 L310.71,668.46 L312.52,661.70 L314.32,654.60 L316.12,647.16 L317.93,639.38 L319.73,631.29 L321.53,622.89 L323.33,614.21 L325.14,605.27 L326.94,596.09 L328.74,586.71 L330.55,577.15 L332.35,567.46 L334.15,557.65 L335.96,547.78 L337.76,537.88 L339.56,527.98 L341.37,518.12 L343.17,508.35 L344.97,498.69 L346.78,489.17 L348.58,479.83 L350.38,470.70 L352.19,461.79 L353.99,453.14 L355.79,444.76 L357.60,436.66 L359.40,428.87 L361.20,421.38 L363.01,414.21 L364.81,407.35 L366.61,400.82 L368.42,394.61 L370.22,388.71" stroke="#c2c2c2" stroke-width="2.4"/>
</g>
<rect x="64.0" y="440.0" width="531.2" height="327.5" fill="none" stroke="#1a1a1a" stroke-width="1.6"/>
<line x1="83.50" y1="767.5" x2="83.50" y2="775.5" stroke="#1a1a1a" stroke-width="1.4"/>
<text x="83.50" y="795.6" text-anchor="middle" font-size="17.5">−8</text>
<line x1="165.42" y1="767.5" x2="165.42" y2="775.5" stroke="#1a1a1a" stroke-width="1.4"/>
<text x="165.42" y="795.6" text-anchor="middle" font-size="17.5">−7</text>
<line x1="247.34" y1="767.5" x2="247.34" y2="775.5" stroke="#1a1a1a" stroke-width="1.4"/>
<text x="247.34" y="795.6" text-anchor="middle" font-size="17.5">−6</text>
<line x1="329.26" y1="767.5" x2="329.26" y2="775.5" stroke="#1a1a1a" stroke-width="1.4"/>
<text x="329.26" y="795.6" text-anchor="middle" font-size="17.5">−5</text>
<line x1="411.18" y1="767.5" x2="411.18" y2="775.5" stroke="#1a1a1a" stroke-width="1.4"/>
<text x="411.18" y="795.6" text-anchor="middle" font-size="17.5">−4</text>
<line x1="493.10" y1="767.5" x2="493.10" y2="775.5" stroke="#1a1a1a" stroke-width="1.4"/>
<text x="493.10" y="795.6" text-anchor="middle" font-size="17.5">−3</text>
<line x1="575.02" y1="767.5" x2="575.02" y2="775.5" stroke="#1a1a1a" stroke-width="1.4"/>
<text x="575.02" y="795.6" text-anchor="middle" font-size="17.5">−2</text>
<line x1="55.6" y1="755.00" x2="64.0" y2="755.00" stroke="#1a1a1a" stroke-width="1.4"/>
<text transform="translate(44.8,755.00) rotate(-90)" x="0" y="0" text-anchor="middle" font-size="17.5">0.0</text>
<line x1="55.6" y1="704.53" x2="64.0" y2="704.53" stroke="#1a1a1a" stroke-width="1.4"/>
<text transform="translate(44.8,704.53) rotate(-90)" x="0" y="0" text-anchor="middle" font-size="17.5">0.2</text>
<line x1="55.6" y1="654.07" x2="64.0" y2="654.07" stroke="#1a1a1a" stroke-width="1.4"/>
<text transform="translate(44.8,654.07) rotate(-90)" x="0" y="0" text-anchor="middle" font-size="17.5">0.4</text>
<line x1="55.6" y1="603.60" x2="64.0" y2="603.60" stroke="#1a1a1a" stroke-width="1.4"/>
<text transform="translate(44.8,603.60) rotate(-90)" x="0" y="0" text-anchor="middle" font-size="17.5">0.6</text>
<line x1="55.6" y1="553.13" x2="64.0" y2="553.13" stroke="#1a1a1a" stroke-width="1.4"/>
<text transform="translate(44.8,553.13) rotate(-90)" x="0" y="0" text-anchor="middle" font-size="17.5">0.8</text>
<line x1="55.6" y1="502.67" x2="64.0" y2="502.67" stroke="#1a1a1a" stroke-width="1.4"/>
<text transform="translate(44.8,502.67) rotate(-90)" x="0" y="0" text-anchor="middle" font-size="17.5">1.0</text>
<line x1="55.6" y1="452.20" x2="64.0" y2="452.20" stroke="#1a1a1a" stroke-width="1.4"/>
<text transform="translate(44.8,452.20) rotate(-90)" x="0" y="0" text-anchor="middle" font-size="17.5">1.2</text>
<text x="329.60" y="827.3" text-anchor="middle" font-size="17.5">concentration log [M]</text>
<text transform="translate(13.9,603.75) rotate(-90)" text-anchor="middle" font-size="17.5">reporter activity normalized to 0.1 nM E2 (=1)</text>
<text x="82.2" y="484.6" font-size="34.5">B</text>
<rect x="449.7" y="440.0" width="145.50000000000006" height="110.89999999999998" fill="#fff" stroke="#1a1a1a" stroke-width="1.4"/>
<line x1="461.90" y1="453.90" x2="489.10" y2="453.90" stroke="#ec6c6c" stroke-width="2.4"/>
<text x="501.40" y="458.10" font-size="12.9">propamocarb</text>
<line x1="461.90" y1="467.85" x2="489.10" y2="467.85" stroke="#236b23" stroke-width="2.2"/>
<text x="501.40" y="472.05" font-size="12.9">chlorpyrifos</text>
<line x1="461.90" y1="481.80" x2="489.10" y2="481.80" stroke="#98bf98" stroke-width="2.2"/>
<text x="501.40" y="486.00" font-size="12.9">fenarimol</text>
<line x1="461.90" y1="495.75" x2="489.10" y2="495.75" stroke="#2a6dbc" stroke-width="2.4"/>
<text x="501.40" y="499.95" font-size="12.9">2,4’−DDT</text>
<line x1="461.90" y1="509.70" x2="489.10" y2="509.70" stroke="#7767d8" stroke-width="2.4"/>
<text x="501.40" y="513.90" font-size="12.9">4,4’−DDT</text>
<line x1="461.90" y1="523.65" x2="489.10" y2="523.65" stroke="#55d6c8" stroke-width="2.4"/>
<text x="501.40" y="527.85" font-size="12.9">fludioxonil</text>
<line x1="461.90" y1="537.60" x2="489.10" y2="537.60" stroke="#c2c2c2" stroke-width="2.4"/>
<text x="501.40" y="541.80" font-size="12.9">fenhexamid</text>
<clipPath id="clipC"><rect x="64.0" y="876.5" width="531.2" height="327.0"/></clipPath>
<g clip-path="url(#clipC)" fill="none" stroke-linejoin="round" stroke-linecap="round">
<path d="M83.50,1192.10 L85.46,1192.10 L87.42,1192.10 L89.37,1192.10 L91.33,1192.10 L93.29,1192.10 L95.25,1192.10 L97.20,1192.10 L99.16,1192.10 L101.12,1192.10 L103.08,1192.10 L105.04,1192.10 L106.99,1192.10 L108.95,1192.10 L110.91,1192.10 L112.87,1192.10 L114.83,1192.10 L116.78,1192.10 L118.74,1192.10 L120.70,1192.10 L122.66,1192.10 L124.61,1192.10 L126.57,1192.10 L128.53,1192.10 L130.49,1192.10 L132.45,1192.10 L134.40,1192.10 L136.36,1192.10 L138.32,1192.10 L140.28,1192.10 L142.24,1192.10 L144.19,1192.10 L146.15,1192.10 L148.11,1192.10 L150.07,1192.10 L152.02,1192.10 L153.98,1192.09 L155.94,1192.09 L157.90,1192.09 L159.86,1192.09 L161.81,1192.09 L163.77,1192.09 L165.73,1192.09 L167.69,1192.09 L169.64,1192.09 L171.60,1192.09 L173.56,1192.09 L175.52,1192.09 L177.48,1192.08 L179.43,1192.08 L181.39,1192.08 L183.35,1192.08 L185.31,1192.08 L187.27,1192.08 L189.22,1192.07 L191.18,1192.07 L193.14,1192.07 L195.10,1192.06 L197.05,1192.06 L199.01,1192.06 L200.97,1192.05 L202.93,1192.05 L204.89,1192.05 L206.84,1192.04 L208.80,1192.03 L210.76,1192.03 L212.72,1192.02 L214.68,1192.01 L216.63,1192.01 L218.59,1192.00 L220.55,1191.99 L222.51,1191.98 L224.46,1191.97 L226.42,1191.95 L228.38,1191.94 L230.34,1191.93 L232.30,1191.91 L234.25,1191.89 L236.21,1191.87 L238.17,1191.85 L240.13,1191.83 L242.08,1191.80 L244.04,1191.78 L246.00,1191.75 L247.96,1191.71 L249.92,1191.68 L251.87,1191.64 L253.83,1191.59 L255.79,1191.55 L257.75,1191.50 L259.71,1191.44 L261.66,1191.38 L263.62,1191.31 L265.58,1191.24 L267.54,1191.16 L269.49,1191.07 L271.45,1190.98 L273.41,1190.87 L275.37,1190.76 L277.33,1190.63 L279.28,1190.50 L281.24,1190.35 L283.20,1190.18 L285.16,1190.00 L287.11,1189.81 L289.07,1189.60 L291.03,1189.36 L292.99,1189.11 L294.95,1188.83 L296.90,1188.53 L298.86,1188.20 L300.82,1187.84 L302.78,1187.44 L304.74,1187.01 L306.69,1186.53 L308.65,1186.02 L310.61,1185.45 L312.57,1184.84 L314.52,1184.16 L316.48,1183.43 L318.44,1182.63 L320.40,1181.75 L322.36,1180.80 L324.31,1179.76 L326.27,1178.63 L328.23,1177.41 L330.19,1176.08 L332.15,1174.64 L334.10,1173.08 L336.06,1171.42 L338.02,1169.64 L339.98,1167.75 L341.93,1165.75 L343.89,1163.68 L345.85,1161.54 L347.81,1159.38 L349.77,1157.22 L351.72,1155.11 L353.68,1153.10 L355.64,1151.23 L357.60,1149.52 L359.55,1148.00 L361.51,1146.69 L363.47,1145.58 L365.43,1144.65 L367.39,1143.89 L369.34,1143.28 L371.30,1142.80 L373.26,1142.42 L375.22,1142.12 L377.18,1141.88 L379.13,1141.70 L381.09,1141.57 L383.05,1141.46 L385.01,1141.38 L386.96,1141.32 L388.92,1141.27 L390.88,1141.23 L392.84,1141.21 L394.80,1141.19" stroke="#98bf98" stroke-width="2.2"/>
<path d="M83.50,1191.17 L85.30,1191.13 L87.11,1191.08 L88.91,1191.04 L90.71,1190.99 L92.52,1190.94 L94.32,1190.89 L96.12,1190.84 L97.93,1190.78 L99.73,1190.73 L101.53,1190.66 L103.34,1190.60 L105.14,1190.54 L106.94,1190.47 L108.75,1190.39 L110.55,1190.32 L112.35,1190.24 L114.16,1190.16 L115.96,1190.07 L117.76,1189.98 L119.57,1189.89 L121.37,1189.79 L123.17,1189.69 L124.98,1189.59 L126.78,1189.48 L128.58,1189.36 L130.39,1189.24 L132.19,1189.12 L133.99,1188.99 L135.79,1188.85 L137.60,1188.71 L139.40,1188.56 L141.20,1188.40 L143.01,1188.24 L144.81,1188.07 L146.61,1187.90 L148.42,1187.71 L150.22,1187.52 L152.02,1187.32 L153.83,1187.12 L155.63,1186.90 L157.43,1186.68 L159.24,1186.44 L161.04,1186.20 L162.84,1185.94 L164.65,1185.68 L166.45,1185.40 L168.25,1185.11 L170.06,1184.81 L171.86,1184.50 L173.66,1184.17 L175.47,1183.84 L177.27,1183.48 L179.07,1183.12 L180.88,1182.74 L182.68,1182.34 L184.48,1181.93 L186.29,1181.50 L188.09,1181.06 L189.89,1180.60 L191.70,1180.12 L193.50,1179.63 L195.30,1179.11 L197.11,1178.58 L198.91,1178.02 L200.71,1177.45 L202.52,1176.86 L204.32,1176.24 L206.12,1175.61 L207.93,1174.95 L209.73,1174.27 L211.53,1173.56 L213.34,1172.84 L215.14,1172.09 L216.94,1171.32 L218.75,1170.52 L220.55,1169.70 L222.35,1168.86 L224.16,1167.99 L225.96,1167.10 L227.76,1166.18 L229.56,1165.25 L231.37,1164.28 L233.17,1163.30 L234.97,1162.29 L236.78,1161.26 L238.58,1160.21 L240.38,1159.14 L242.19,1158.04 L243.99,1156.93 L245.79,1155.80 L247.60,1154.65 L249.40,1153.49 L251.20,1152.31 L253.01,1151.12 L254.81,1149.92 L256.61,1148.70 L258.42,1147.48 L260.22,1146.25 L262.02,1145.01 L263.83,1143.77 L265.63,1142.53 L267.43,1141.29 L269.24,1140.04 L271.04,1138.81 L272.84,1137.57 L274.65,1136.35 L276.45,1135.13 L278.25,1133.93 L280.06,1132.73 L281.86,1131.55 L283.66,1130.39 L285.47,1129.24 L287.27,1128.11 L289.07,1127.00 L290.88,1125.91 L292.68,1124.85 L294.48,1123.80 L296.29,1122.78 L298.09,1121.79 L299.89,1120.82 L301.70,1119.88 L303.50,1118.96 L305.30,1118.07 L307.11,1117.21 L308.91,1116.37 L310.71,1115.57 L312.52,1114.79 L314.32,1114.03 L316.12,1113.31 L317.93,1112.61 L319.73,1111.94 L321.53,1111.29 L323.33,1110.67 L325.14,1110.07 L326.94,1109.50 L328.74,1108.95 L330.55,1108.43 L332.35,1107.93 L334.15,1107.45 L335.96,1106.99 L337.76,1106.56 L339.56,1106.14 L341.37,1105.74 L343.17,1105.37 L344.97,1105.01 L346.78,1104.66 L348.58,1104.34 L350.38,1104.03 L352.19,1103.73 L353.99,1103.45 L355.79,1103.19 L357.60,1102.93 L359.40,1102.69 L361.20,1102.47 L363.01,1102.25 L364.81,1102.05 L366.61,1101.85 L368.42,1101.67 L370.22,1101.50" stroke="#2a6dbc" stroke-width="2.4"/>
<path d="M83.50,1192.10 L85.30,1192.10 L87.11,1192.10 L88.91,1192.10 L90.71,1192.10 L92.52,1192.10 L94.32,1192.10 L96.12,1192.10 L97.93,1192.10 L99.73,1192.10 L101.53,1192.10 L103.34,1192.10 L105.14,1192.10 L106.94,1192.10 L108.75,1192.10 L110.55,1192.10 L112.35,1192.10 L114.16,1192.10 L115.96,1192.10 L117.76,1192.10 L119.57,1192.10 L121.37,1192.10 L123.17,1192.10 L124.98,1192.10 L126.78,1192.10 L128.58,1192.10 L130.39,1192.10 L132.19,1192.10 L133.99,1192.10 L135.79,1192.10 L137.60,1192.10 L139.40,1192.10 L141.20,1192.10 L143.01,1192.10 L144.81,1192.10 L146.61,1192.10 L148.42,1192.09 L150.22,1192.09 L152.02,1192.09 L153.83,1192.09 L155.63,1192.09 L157.43,1192.09 L159.24,1192.09 L161.04,1192.09 L162.84,1192.08 L164.65,1192.08 L166.45,1192.08 L168.25,1192.08 L170.06,1192.07 L171.86,1192.07 L173.66,1192.07 L175.47,1192.06 L177.27,1192.06 L179.07,1192.05 L180.88,1192.04 L182.68,1192.04 L184.48,1192.03 L186.29,1192.02 L188.09,1192.01 L189.89,1192.00 L191.70,1191.98 L193.50,1191.97 L195.30,1191.95 L197.11,1191.93 L198.91,1191.91 L200.71,1191.88 L202.52,1191.86 L204.32,1191.83 L206.12,1191.80 L207.93,1191.76 L209.73,1191.72 L211.53,1191.67 L213.34,1191.62 L215.14,1191.57 L216.94,1191.51 L218.75,1191.44 L220.55,1191.37 L222.35,1191.29 L224.16,1191.20 L225.96,1191.11 L227.76,1191.01 L229.56,1190.90 L231.37,1190.78 L233.17,1190.65 L234.97,1190.51 L236.78,1190.36 L238.58,1190.20 L240.38,1190.02 L242.19,1189.84 L243.99,1189.64 L245.79,1189.44 L247.60,1189.22 L249.40,1188.99 L251.20,1188.74 L253.01,1188.49 L254.81,1188.22 L256.61,1187.94 L258.42,1187.66 L260.22,1187.36 L262.02,1187.04 L263.83,1186.72 L265.63,1186.39 L267.43,1186.06 L269.24,1185.71 L271.04,1185.36 L272.84,1185.00 L274.65,1184.63 L276.45,1184.26 L278.25,1183.89 L280.06,1183.52 L281.86,1183.14 L283.66,1182.76 L285.47,1182.38 L287.27,1182.00 L289.07,1181.63 L290.88,1181.26 L292.68,1180.89 L294.48,1180.52 L296.29,1180.16 L298.09,1179.80 L299.89,1179.45 L301.70,1179.11 L303.50,1178.77 L305.30,1178.44 L307.11,1178.12 L308.91,1177.80 L310.71,1177.50 L312.52,1177.20 L314.32,1176.91 L316.12,1176.63 L317.93,1176.36 L319.73,1176.10 L321.53,1175.85 L323.33,1175.60 L325.14,1175.37 L326.94,1175.14 L328.74,1174.92 L330.55,1174.71 L332.35,1174.51 L334.15,1174.32 L335.96,1174.13 L337.76,1173.96 L339.56,1173.79 L341.37,1173.63 L343.17,1173.47 L344.97,1173.32 L346.78,1173.18 L348.58,1173.05 L350.38,1172.92 L352.19,1172.80 L353.99,1172.68 L355.79,1172.57 L357.60,1172.46 L359.40,1172.36 L361.20,1172.27 L363.01,1172.17 L364.81,1172.09 L366.61,1172.01 L368.42,1171.93 L370.22,1171.85" stroke="#7767d8" stroke-width="2.4"/>
<path d="M83.50,1192.10 L85.30,1192.10 L87.11,1192.10 L88.91,1192.10 L90.71,1192.10 L92.52,1192.10 L94.32,1192.10 L96.12,1192.10 L97.93,1192.10 L99.73,1192.10 L101.53,1192.10 L103.34,1192.10 L105.14,1192.10 L106.94,1192.10 L108.75,1192.10 L110.55,1192.10 L112.35,1192.10 L114.16,1192.10 L115.96,1192.10 L117.76,1192.10 L119.57,1192.10 L121.37,1192.10 L123.17,1192.10 L124.98,1192.10 L126.78,1192.10 L128.58,1192.10 L130.39,1192.10 L132.19,1192.10 L133.99,1192.10 L135.79,1192.10 L137.60,1192.10 L139.40,1192.10 L141.20,1192.10 L143.01,1192.10 L144.81,1192.10 L146.61,1192.10 L148.42,1192.10 L150.22,1192.10 L152.02,1192.10 L153.83,1192.10 L155.63,1192.10 L157.43,1192.10 L159.24,1192.10 L161.04,1192.10 L162.84,1192.10 L164.65,1192.09 L166.45,1192.09 L168.25,1192.09 L170.06,1192.09 L171.86,1192.09 L173.66,1192.09 L175.47,1192.09 L177.27,1192.08 L179.07,1192.08 L180.88,1192.08 L182.68,1192.08 L184.48,1192.07 L186.29,1192.07 L188.09,1192.06 L189.89,1192.06 L191.70,1192.05 L193.50,1192.04 L195.30,1192.03 L197.11,1192.02 L198.91,1192.01 L200.71,1191.99 L202.52,1191.98 L204.32,1191.96 L206.12,1191.94 L207.93,1191.91 L209.73,1191.88 L211.53,1191.85 L213.34,1191.81 L215.14,1191.76 L216.94,1191.71 L218.75,1191.65 L220.55,1191.58 L222.35,1191.50 L224.16,1191.41 L225.96,1191.30 L227.76,1191.18 L229.56,1191.04 L231.37,1190.88 L233.17,1190.69 L234.97,1190.48 L236.78,1190.23 L238.58,1189.95 L240.38,1189.63 L242.19,1189.26 L243.99,1188.84 L245.79,1188.37 L247.60,1187.83 L249.40,1187.21 L251.20,1186.52 L253.01,1185.74 L254.81,1184.85 L256.61,1183.86 L258.42,1182.76 L260.22,1181.52 L262.02,1180.15 L263.83,1178.64 L265.63,1176.97 L267.43,1175.15 L269.24,1173.16 L271.04,1171.01 L272.84,1168.69 L274.65,1166.21 L276.45,1163.57 L278.25,1160.79 L280.06,1157.86 L281.86,1154.82 L283.66,1151.67 L285.47,1148.44 L287.27,1145.15 L289.07,1141.82 L290.88,1138.49 L292.68,1135.17 L294.48,1131.88 L296.29,1128.66 L298.09,1125.51 L299.89,1122.47 L301.70,1119.54 L303.50,1116.74 L305.30,1114.07 L307.11,1111.56 L308.91,1109.19 L310.71,1106.97 L312.52,1104.90 L314.32,1102.98 L316.12,1101.20 L317.93,1099.57 L319.73,1098.07 L321.53,1096.69 L323.33,1095.43 L325.14,1094.29 L326.94,1093.25 L328.74,1092.30 L330.55,1091.45 L332.35,1090.68 L334.15,1089.98 L335.96,1089.35 L337.76,1088.78 L339.56,1088.27 L341.37,1087.82 L343.17,1087.40 L344.97,1087.04 L346.78,1086.71 L348.58,1086.41 L350.38,1086.15 L352.19,1085.91 L353.99,1085.70 L355.79,1085.51 L357.60,1085.34 L359.40,1085.19 L361.20,1085.05 L363.01,1084.93 L364.81,1084.82 L366.61,1084.73 L368.42,1084.64 L370.22,1084.56" stroke="#55d6c8" stroke-width="2.4"/>
<path d="M83.50,1192.10 L85.46,1192.10 L87.42,1192.10 L89.37,1192.10 L91.33,1192.10 L93.29,1192.10 L95.25,1192.10 L97.20,1192.10 L99.16,1192.10 L101.12,1192.10 L103.08,1192.10 L105.04,1192.10 L106.99,1192.10 L108.95,1192.10 L110.91,1192.10 L112.87,1192.10 L114.83,1192.10 L116.78,1192.09 L118.74,1192.09 L120.70,1192.09 L122.66,1192.09 L124.61,1192.09 L126.57,1192.09 L128.53,1192.09 L130.49,1192.09 L132.45,1192.09 L134.40,1192.09 L136.36,1192.09 L138.32,1192.09 L140.28,1192.08 L142.24,1192.08 L144.19,1192.08 L146.15,1192.08 L148.11,1192.08 L150.07,1192.08 L152.02,1192.07 L153.98,1192.07 L155.94,1192.07 L157.90,1192.07 L159.86,1192.06 L161.81,1192.06 L163.77,1192.05 L165.73,1192.05 L167.69,1192.05 L169.64,1192.04 L171.60,1192.03 L173.56,1192.03 L175.52,1192.02 L177.48,1192.01 L179.43,1192.01 L181.39,1192.00 L183.35,1191.99 L185.31,1191.98 L187.27,1191.97 L189.22,1191.95 L191.18,1191.94 L193.14,1191.92 L195.10,1191.91 L197.05,1191.89 L199.01,1191.87 L200.97,1191.84 L202.93,1191.82 L204.89,1191.79 L206.84,1191.76 L208.80,1191.73 L210.76,1191.70 L212.72,1191.66 L214.68,1191.62 L216.63,1191.57 L218.59,1191.52 L220.55,1191.46 L222.51,1191.40 L224.46,1191.34 L226.42,1191.26 L228.38,1191.18 L230.34,1191.10 L232.30,1191.00 L234.25,1190.90 L236.21,1190.78 L238.17,1190.66 L240.13,1190.52 L242.08,1190.37 L244.04,1190.21 L246.00,1190.03 L247.96,1189.84 L249.92,1189.62 L251.87,1189.39 L253.83,1189.13 L255.79,1188.86 L257.75,1188.55 L259.71,1188.22 L261.66,1187.86 L263.62,1187.47 L265.58,1187.04 L267.54,1186.57 L269.49,1186.07 L271.45,1185.52 L273.41,1184.92 L275.37,1184.26 L277.33,1183.56 L279.28,1182.79 L281.24,1181.97 L283.20,1181.07 L285.16,1180.11 L287.11,1179.06 L289.07,1177.94 L291.03,1176.74 L292.99,1175.45 L294.95,1174.06 L296.90,1172.58 L298.86,1171.01 L300.82,1169.33 L302.78,1167.55 L304.74,1165.67 L306.69,1163.69 L308.65,1161.60 L310.61,1159.41 L312.57,1157.13 L314.52,1154.75 L316.48,1152.29 L318.44,1149.74 L320.40,1147.13 L322.36,1144.45 L324.31,1141.71 L326.27,1138.94 L328.23,1136.14 L330.19,1133.32 L332.15,1130.50 L334.10,1127.69 L336.06,1124.90 L338.02,1122.15 L339.98,1119.44 L341.93,1116.80 L343.89,1114.23 L345.85,1111.73 L347.81,1109.32 L349.77,1107.01 L351.72,1104.79 L353.68,1102.68 L355.64,1100.67 L357.60,1098.77 L359.55,1096.97 L361.51,1095.28 L363.47,1093.70 L365.43,1092.22 L367.39,1090.83 L369.34,1089.54 L371.30,1088.35 L373.26,1087.24 L375.22,1086.21 L377.18,1085.26 L379.13,1084.39 L381.09,1083.58 L383.05,1082.84 L385.01,1082.17 L386.96,1081.54 L388.92,1080.97 L390.88,1080.45 L392.84,1079.97 L394.80,1079.54" stroke="#c2c2c2" stroke-width="2.4"/>
</g>
<rect x="64.0" y="876.5" width="531.2" height="327.0" fill="none" stroke="#1a1a1a" stroke-width="1.6"/>
<line x1="83.50" y1="1203.5" x2="83.50" y2="1211.5" stroke="#1a1a1a" stroke-width="1.4"/>
<text x="83.50" y="1231.6" text-anchor="middle" font-size="17.5">−8</text>
<line x1="165.42" y1="1203.5" x2="165.42" y2="1211.5" stroke="#1a1a1a" stroke-width="1.4"/>
<text x="165.42" y="1231.6" text-anchor="middle" font-size="17.5">−7</text>
<line x1="247.34" y1="1203.5" x2="247.34" y2="1211.5" stroke="#1a1a1a" stroke-width="1.4"/>
<text x="247.34" y="1231.6" text-anchor="middle" font-size="17.5">−6</text>
<line x1="329.26" y1="1203.5" x2="329.26" y2="1211.5" stroke="#1a1a1a" stroke-width="1.4"/>
<text x="329.26" y="1231.6" text-anchor="middle" font-size="17.5">−5</text>
<line x1="411.18" y1="1203.5" x2="411.18" y2="1211.5" stroke="#1a1a1a" stroke-width="1.4"/>
<text x="411.18" y="1231.6" text-anchor="middle" font-size="17.5">−4</text>
<line x1="493.10" y1="1203.5" x2="493.10" y2="1211.5" stroke="#1a1a1a" stroke-width="1.4"/>
<text x="493.10" y="1231.6" text-anchor="middle" font-size="17.5">−3</text>
<line x1="575.02" y1="1203.5" x2="575.02" y2="1211.5" stroke="#1a1a1a" stroke-width="1.4"/>
<text x="575.02" y="1231.6" text-anchor="middle" font-size="17.5">−2</text>
<line x1="55.6" y1="1191.50" x2="64.0" y2="1191.50" stroke="#1a1a1a" stroke-width="1.4"/>
<text transform="translate(44.8,1191.50) rotate(-90)" x="0" y="0" text-anchor="middle" font-size="17.5">0.0</text>
<line x1="55.6" y1="1140.93" x2="64.0" y2="1140.93" stroke="#1a1a1a" stroke-width="1.4"/>
<text transform="translate(44.8,1140.93) rotate(-90)" x="0" y="0" text-anchor="middle" font-size="17.5">0.2</text>
<line x1="55.6" y1="1090.37" x2="64.0" y2="1090.37" stroke="#1a1a1a" stroke-width="1.4"/>
<text transform="translate(44.8,1090.37) rotate(-90)" x="0" y="0" text-anchor="middle" font-size="17.5">0.4</text>
<line x1="55.6" y1="1039.80" x2="64.0" y2="1039.80" stroke="#1a1a1a" stroke-width="1.4"/>
<text transform="translate(44.8,1039.80) rotate(-90)" x="0" y="0" text-anchor="middle" font-size="17.5">0.6</text>
<line x1="55.6" y1="989.23" x2="64.0" y2="989.23" stroke="#1a1a1a" stroke-width="1.4"/>
<text transform="translate(44.8,989.23) rotate(-90)" x="0" y="0" text-anchor="middle" font-size="17.5">0.8</text>
<line x1="55.6" y1="938.67" x2="64.0" y2="938.67" stroke="#1a1a1a" stroke-width="1.4"/>
<text transform="translate(44.8,938.67) rotate(-90)" x="0" y="0" text-anchor="middle" font-size="17.5">1.0</text>
<line x1="55.6" y1="888.10" x2="64.0" y2="888.10" stroke="#1a1a1a" stroke-width="1.4"/>
<text transform="translate(44.8,888.10) rotate(-90)" x="0" y="0" text-anchor="middle" font-size="17.5">1.2</text>
<text x="329.60" y="1263.3" text-anchor="middle" font-size="17.5">concentration log [M]</text>
<text transform="translate(13.9,1040.00) rotate(-90)" text-anchor="middle" font-size="17.5">reporter activity normalized to 30 nM E2 (=1)</text>
<text x="82.6" y="919.6" font-size="34.5">C</text>
<rect x="461.2" y="876.5" width="134.00000000000006" height="82.60000000000002" fill="#fff" stroke="#1a1a1a" stroke-width="1.4"/>
<line x1="473.40" y1="890.30" x2="500.60" y2="890.30" stroke="#98bf98" stroke-width="2.2"/>
<text x="512.90" y="894.50" font-size="12.9">fenarimol</text>
<line x1="473.40" y1="904.25" x2="500.60" y2="904.25" stroke="#2a6dbc" stroke-width="2.4"/>
<text x="512.90" y="908.45" font-size="12.9">2,4’−DDT</text>
<line x1="473.40" y1="918.20" x2="500.60" y2="918.20" stroke="#7767d8" stroke-width="2.4"/>
<text x="512.90" y="922.40" font-size="12.9">4,4’−DDT</text>
<line x1="473.40" y1="932.15" x2="500.60" y2="932.15" stroke="#55d6c8" stroke-width="2.4"/>
<text x="512.90" y="936.35" font-size="12.9">fludioxonil</text>
<line x1="473.40" y1="946.10" x2="500.60" y2="946.10" stroke="#c2c2c2" stroke-width="2.4"/>
<text x="512.90" y="950.30" font-size="12.9">fenhexamid</text>
</svg>
</body></html>
